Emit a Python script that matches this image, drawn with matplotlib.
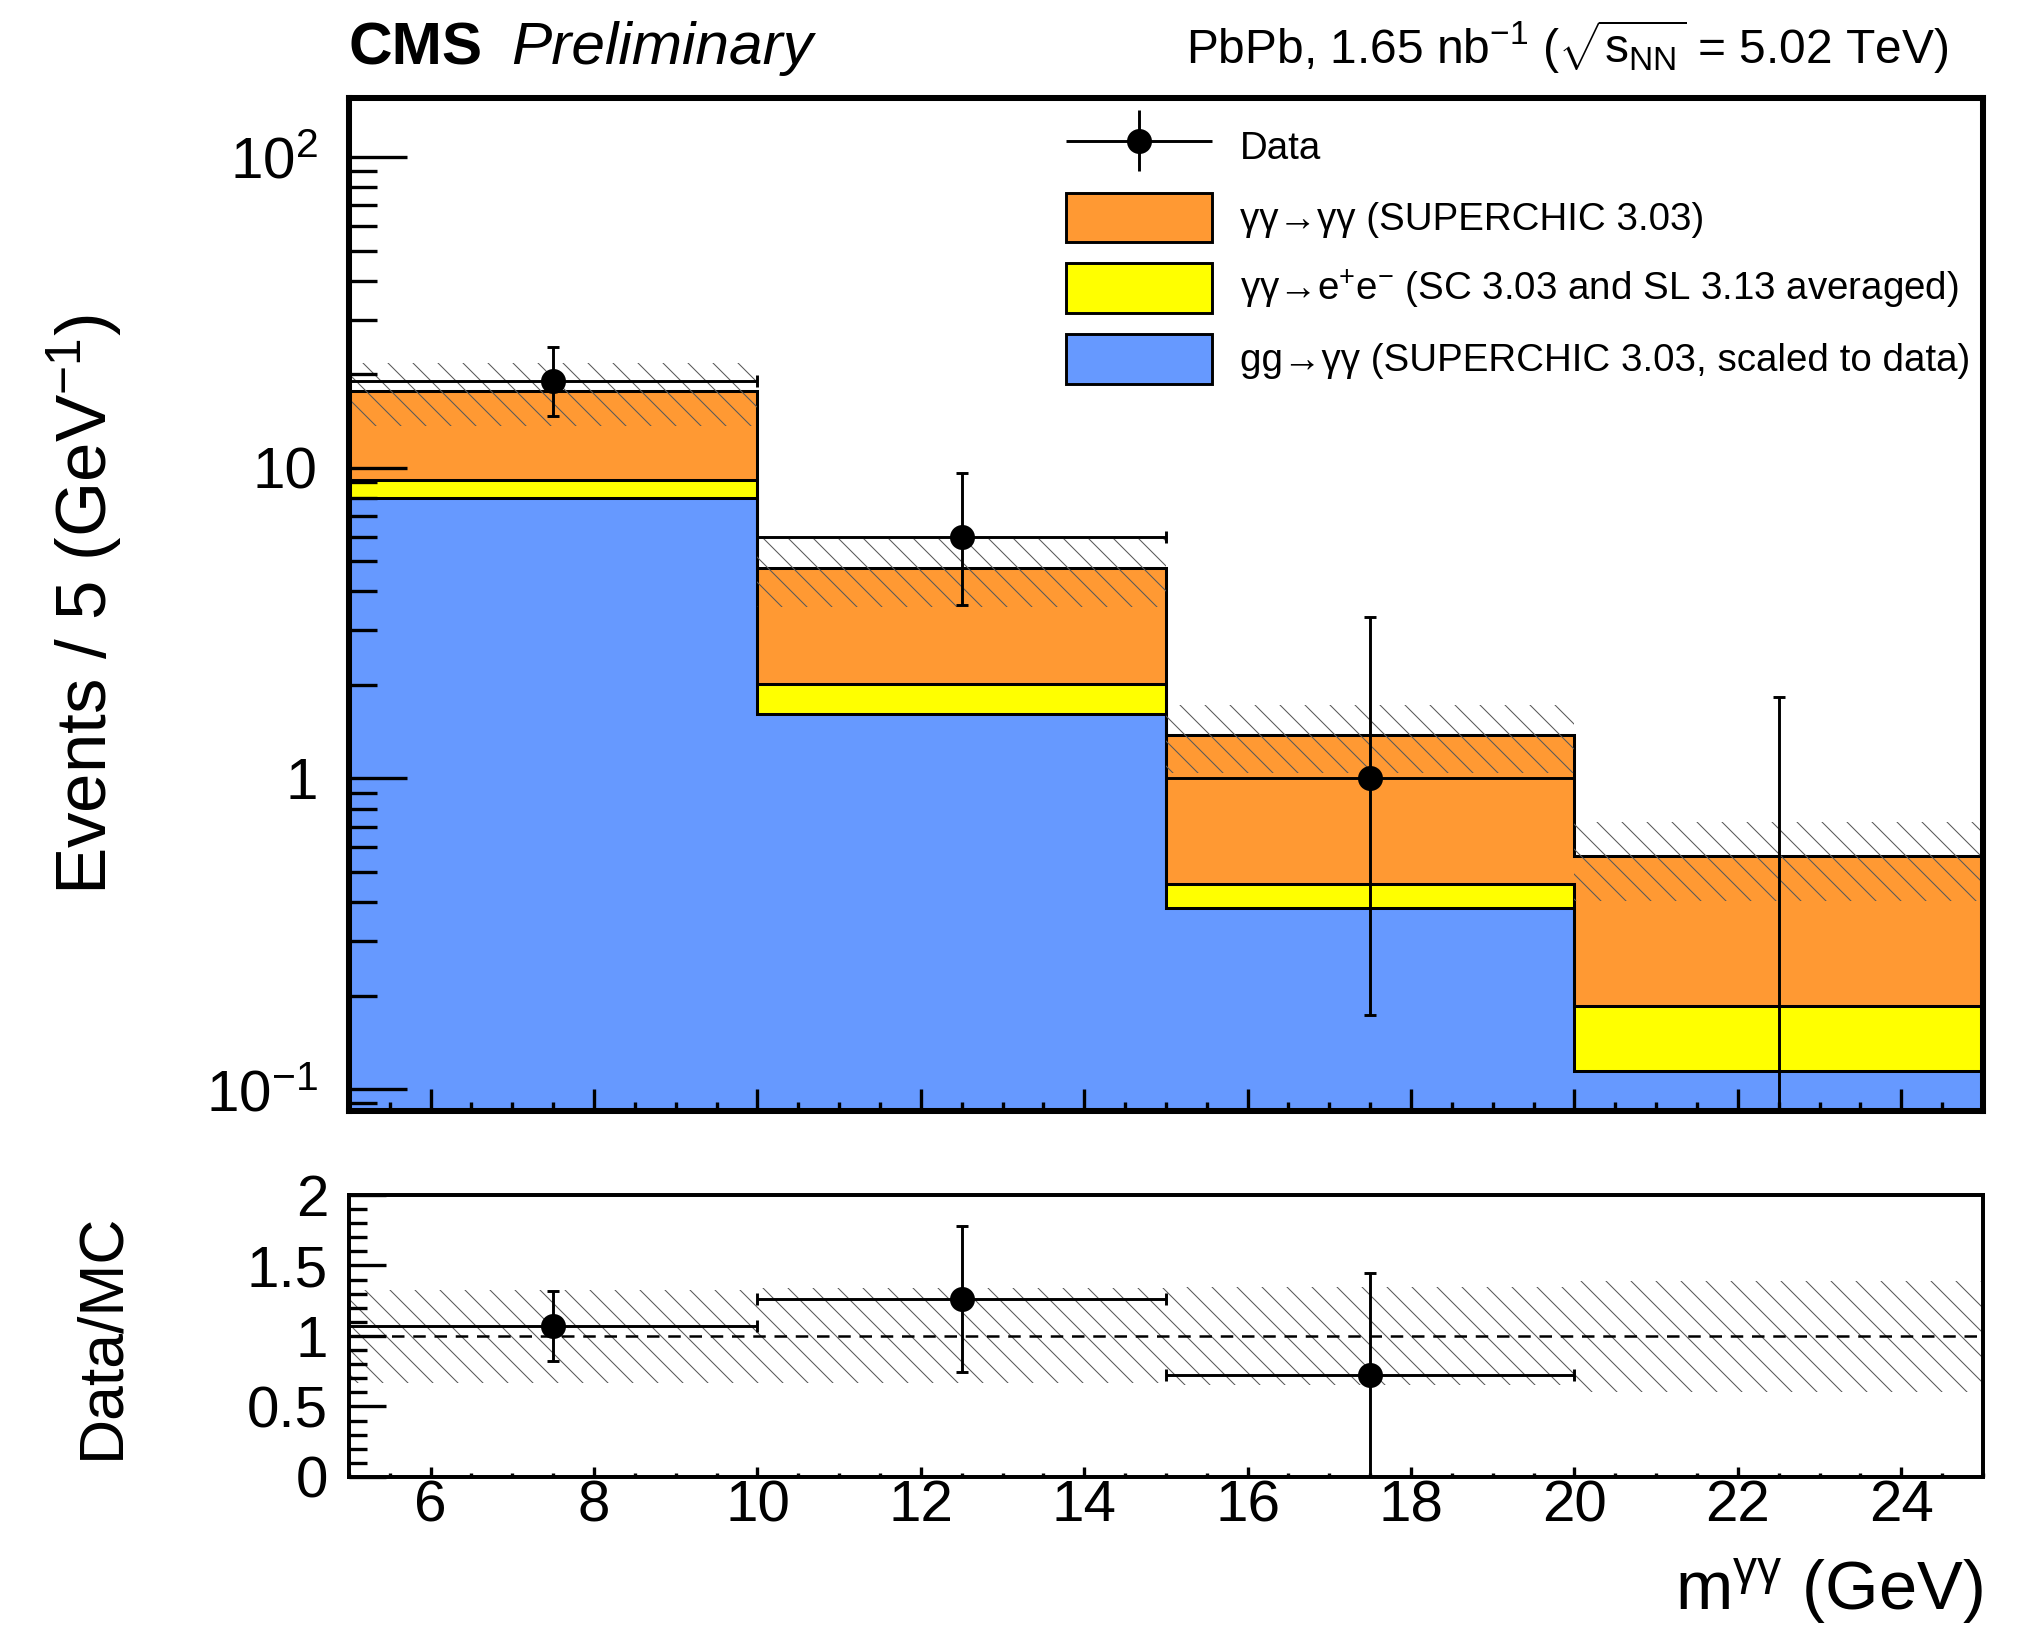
import numpy as np
import matplotlib
matplotlib.use("Agg")
import matplotlib.pyplot as plt
from matplotlib.patches import Patch
from matplotlib.container import ErrorbarContainer
from matplotlib.legend_handler import HandlerErrorbar
from matplotlib.ticker import MultipleLocator, LogLocator, FixedLocator, NullFormatter

plt.rcParams["font.family"] = ["Liberation Sans", "DejaVu Sans"]
plt.rcParams["mathtext.fontset"] = "custom"
plt.rcParams["mathtext.rm"] = "Liberation Sans"
plt.rcParams["mathtext.it"] = "Liberation Sans:italic"
plt.rcParams["mathtext.bf"] = "Liberation Sans:bold"
plt.rcParams["hatch.linewidth"] = 0.5

# binning (GeV)
edges = [5, 10, 15, 20, 25]
centers = [7.5, 12.5, 17.5, 22.5]

# MC components (events / 5 GeV)
gg_yy = [7.98, 1.61, 0.384, 0.114]       # gg -> yy, scaled to data
yy_ee = [1.15, 0.41, 0.073, 0.071]       # yy -> e+e-
yy_yy = [8.57, 2.72, 0.923, 0.377]       # yy -> yy (SUPERCHIC)
mc_unc = [4.1, 1.17, 0.34, 0.16]

# data
data = [19.0, 6.0, 1.0, 0.0]
data_up = [5.5, 3.6, 2.3, 1.83]
data_dn = [4.3, 2.39, 0.827, 0.0]

# ratio panel
ratio = [1.073, 1.262, 0.723, np.nan]
ratio_err = [0.248, 0.518, 0.72, np.nan]
ratio_band_lo = [0.669, 0.664, 0.652, 0.605]
ratio_band_hi = [1.326, 1.338, 1.345, 1.39]

ytick_vals = [0.1, 1, 10, 100]
ytick_labels = ["$10^{-1}$", "1", "10", "$10^{2}$"]
rtick_vals = [0, 0.5, 1, 1.5, 2]
rtick_labels = ["0", "0.5", "1", "1.5", "2"]

c_orange = "#ff9933"
c_yellow = "#ffff00"
c_blue = "#6699ff"

fig = plt.figure(figsize=(13.62, 10.88), dpi=150)
ax = fig.add_axes([0.1708, 0.3192, 0.7998, 0.6208])
axr = fig.add_axes([0.1708, 0.0950, 0.7998, 0.1728])

# stacked histogram
blue_top = np.array(gg_yy)
yel_top = blue_top + np.array(yy_ee)
ora_top = yel_top + np.array(yy_yy)
ax.stairs(ora_top, edges, baseline=yel_top, fill=True, color=c_orange, lw=0)
ax.stairs(yel_top, edges, baseline=blue_top, fill=True, color=c_yellow, lw=0)
ax.stairs(blue_top, edges, baseline=1e-3, fill=True, color=c_blue, lw=0)
for top in (ora_top, yel_top, blue_top):
    ax.stairs(top, edges, baseline=None, color="black", lw=1.45)

# MC uncertainty band
unc = np.array(mc_unc)
ax.stairs(ora_top + unc, edges, baseline=ora_top - unc, fill=True,
          facecolor="none", edgecolor="0.35", hatch="\\\\", lw=0)

# data
xerr = [2.5] * 4
eb = ax.errorbar(centers, data, yerr=[data_dn, data_up], xerr=xerr, fmt="o",
                 color="black", ms=11, elinewidth=1.4, capsize=2.9, capthick=1.4)

ax.set_yscale("log")
ax.set_xlim(5, 25)
ax.set_ylim(0.085, 155)
ax.yaxis.set_major_locator(FixedLocator(ytick_vals))
ax.set_yticks(ytick_vals, ytick_labels)
ax.yaxis.set_minor_locator(LogLocator(base=10, subs=np.arange(2, 10)))
ax.yaxis.set_minor_formatter(NullFormatter())
ax.xaxis.set_major_locator(MultipleLocator(2))
ax.xaxis.set_minor_locator(MultipleLocator(0.5))
ax.tick_params(axis="x", labelbottom=False)
ax.tick_params(which="both", direction="in", top=False, right=False)
ax.tick_params(axis="y", which="major", length=27.8, width=1.6, labelsize=28, pad=15)
ax.tick_params(axis="y", which="minor", length=13.4, width=1.6)
ax.tick_params(axis="x", which="major", length=10.6, width=1.6)
ax.tick_params(axis="x", which="minor", length=4.3, width=1.6)
for s in ax.spines.values():
    s.set_linewidth(2.9)

ax.set_ylabel("Events / 5 (GeV$^{-1}$)", fontsize=34)
ax.yaxis.set_label_coords(-0.137, 0.5)

# legend (data entry without caps, line across the whole handle)
leg_data = ErrorbarContainer((eb.lines[0], (), eb.lines[2]), has_xerr=True, has_yerr=True)
handles = [leg_data,
           Patch(facecolor=c_orange, edgecolor="black", lw=1.4),
           Patch(facecolor=c_yellow, edgecolor="black", lw=1.4),
           Patch(facecolor=c_blue, edgecolor="black", lw=1.4)]
labels = ["Data",
          "γγ→γγ (SUPERCHIC 3.03)",
          "γγ→e$^{+}$e$^{-}$ (SC 3.03 and SL 3.13 averaged)",
          "gg→γγ (SUPERCHIC 3.03, scaled to data)"]
ax.legend(handles, labels, loc="upper left", bbox_to_anchor=(0.4388, 0.9763),
          frameon=False, fontsize=18.5, handlelength=3.8, handleheight=1.6,
          labelspacing=0.55, handletextpad=0.72, borderpad=0, borderaxespad=0,
          handler_map={ErrorbarContainer: HandlerErrorbar(xerr_size=1.9, yerr_size=0.8)})

ax.text(0.0, 1.033, "CMS", transform=ax.transAxes, fontsize=29,
        fontweight="bold", va="baseline", ha="left")
ax.text(0.0991, 1.033, "Preliminary", transform=ax.transAxes, fontsize=29,
        style="italic", va="baseline", ha="left")
ax.text(0.979, 1.033,
        "PbPb, 1.65 nb$^{-1}$ ($\\sqrt{\\mathrm{s}_{\\mathrm{NN}}}$ = 5.02 TeV)",
        transform=ax.transAxes, fontsize=23, va="baseline", ha="right")

# ratio panel
lo = np.array(ratio_band_lo)
hi = np.array(ratio_band_hi)
axr.stairs(hi, edges, baseline=lo, fill=True, facecolor="none",
           edgecolor="0.35", hatch="\\\\", lw=0)
axr.axhline(1.0, color="black", ls=(0, (5, 3.5)), lw=1.2)
axr.errorbar(centers, ratio, yerr=ratio_err, xerr=xerr, fmt="o", color="black",
             ms=11, elinewidth=1.4, capsize=2.9, capthick=1.4)

axr.set_xlim(5, 25)
axr.set_ylim(0, 2)
axr.set_yticks(rtick_vals, rtick_labels)
axr.yaxis.set_minor_locator(MultipleLocator(0.1))
axr.xaxis.set_major_locator(MultipleLocator(2))
axr.xaxis.set_minor_locator(MultipleLocator(0.5))
axr.tick_params(which="both", direction="in", top=False, right=False)
axr.tick_params(axis="y", which="major", length=17.8, width=1.6, labelsize=28, pad=10)
axr.tick_params(axis="y", which="minor", length=8.6, width=1.6)
axr.tick_params(axis="x", which="major", length=4.8, width=1.6, labelsize=28, pad=1)
axr.tick_params(axis="x", which="minor", length=2.0, width=1.6)
for s in axr.spines.values():
    s.set_linewidth(1.9)

axr.set_ylabel("Data/MC", fontsize=30)
axr.yaxis.set_label_coords(-0.133, 0.5)
axr.set_xlabel("m$^{\\mathrm{γγ}}$ (GeV)", fontsize=33, ha="right")
axr.xaxis.set_label_coords(1.0, -0.28)

fig.savefig("out.png", dpi=150)
